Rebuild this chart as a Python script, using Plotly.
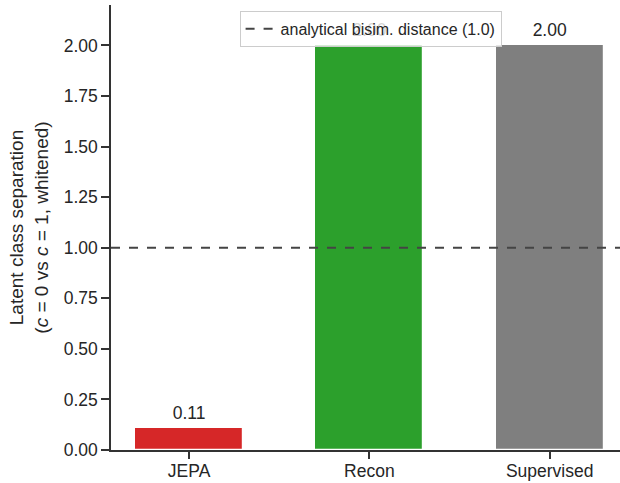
import plotly.graph_objects as go

categories = ["JEPA", "Recon", "Supervised"]
values = [0.107, 2.00, 2.00]
labels = ["0.11", "2.00", "2.00"]
colors = ["#d62728", "#2ca02c", "#7f7f7f"]
ref_value = 1.0
ref_name = "analytical bisim. distance (1.0)"
y_ticks = [0, 0.25, 0.5, 0.75, 1.0, 1.25, 1.5, 1.75, 2.0]

x_pos = list(range(len(categories)))
x_range = [-0.433, 2.39]
y_range = [0, 2.2]

FONT = "Liberation Sans, Arial, sans-serif"
AX = "#333333"

fig = go.Figure()
fig.add_trace(go.Bar(
    x=x_pos, y=values, width=0.6,
    marker=dict(color=colors, line=dict(color="white", width=1.2)),
    showlegend=False, hoverinfo="skip",
))
fig.add_trace(go.Scatter(
    x=x_pos, y=values, mode="markers+text", text=labels, textposition="top center",
    marker=dict(size=6, opacity=0),
    textfont=dict(size=17.5, color="#262626", family=FONT),
    showlegend=False, hoverinfo="skip", cliponaxis=False,
))
fig.add_trace(go.Scatter(
    x=x_range, y=[ref_value, ref_value], mode="lines",
    line=dict(color="#444444", width=2, dash="dash"),
    name=ref_name,
))

fig.update_layout(
    width=620, height=483,
    margin=dict(l=111, r=0, t=5, b=33),
    plot_bgcolor="white", paper_bgcolor="white",
    font=dict(family=FONT, size=17.5, color="#262626"),
    bargap=0,
    legend=dict(x=0.51, xanchor="center", y=0.987, yanchor="top",
                bgcolor="rgba(255,255,255,0.8)", bordercolor="#cccccc", borderwidth=1,
                font=dict(size=16, color="#262626", family=FONT)),
    xaxis=dict(range=x_range, tickvals=x_pos, ticktext=categories, automargin=False,
               showline=True, linecolor=AX, linewidth=1.5, ticks="outside",
               ticklen=7, tickwidth=1.5, tickcolor=AX, showgrid=False, zeroline=False,
               ticklabelstandoff=-3, tickfont=dict(size=17.5)),
    yaxis=dict(range=y_range, tickvals=y_ticks, tickformat=".2f", automargin=False,
               showline=True, linecolor=AX, linewidth=1.5, ticks="outside",
               ticklen=8, tickwidth=1.5, tickcolor=AX, showgrid=False, zeroline=False,
               tickfont=dict(size=17.5),
               title=dict(text="Latent class separation<br>(<i>c</i> = 0 vs <i>c</i> = 1, whitened)",
                          font=dict(size=19), standoff=10)),
)

fig.write_html("out.html")
